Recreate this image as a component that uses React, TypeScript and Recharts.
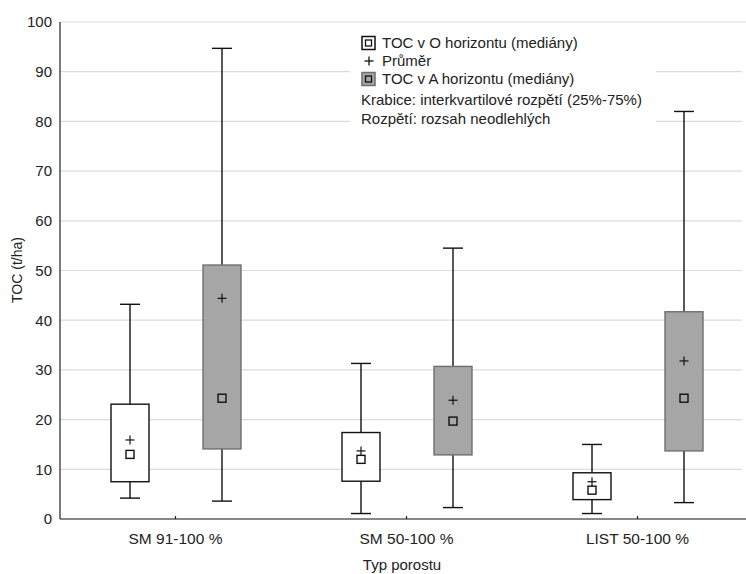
import { ComposedChart, Bar, XAxis, YAxis, CartesianGrid } from 'recharts';

const categories = ['SM 91-100 %', 'SM 50-100 %', 'LIST 50-100 %'];
const yTicks = [0, 10, 20, 30, 40, 50, 60, 70, 80, 90, 100];

// TOC v O horizontu
const oMin = [4.2, 1.1, 1.1];
const oQ1 = [7.5, 7.6, 3.9];
const oMedian = [13.0, 12.0, 5.8];
const oMean = [15.9, 13.7, 7.5];
const oQ3 = [23.1, 17.4, 9.3];
const oMax = [43.2, 31.3, 15.0];

// TOC v A horizontu
const aMin = [3.6, 2.3, 3.3];
const aQ1 = [14.1, 12.9, 13.7];
const aMedian = [24.3, 19.7, 24.3];
const aMean = [44.4, 23.9, 31.8];
const aQ3 = [51.1, 30.7, 41.7];
const aMax = [94.7, 54.5, 82.0];

const legendNotes = ['Krabice: interkvartilové rozpětí (25%-75%)', 'Rozpětí: rozsah neodlehlých'];

const data = categories.map((name, i) => ({
  name,
  o: [oMin[i], oMax[i]],
  a: [aMin[i], aMax[i]],
  oStats: { min: oMin[i], q1: oQ1[i], med: oMedian[i], mean: oMean[i], q3: oQ3[i], max: oMax[i] },
  aStats: { min: aMin[i], q1: aQ1[i], med: aMedian[i], mean: aMean[i], q3: aQ3[i], max: aMax[i] },
}));

const FONT = '"Liberation Sans", Arial, sans-serif';
const GRAY = '#a6a6a6';
const GRAY_EDGE = '#6f6f6f';
const INK = '#222';

function BoxShape(props: any) {
  const { x, y, width, height, payload, statsKey, fill, edge } = props;
  const s = payload[statsKey];
  if (!height || s.max === s.min) return null;
  const unit = height / (s.max - s.min);
  const yOf = (v: number) => y + height - (v - s.min) * unit;
  const cx = x + width / 2;
  const cap = 10;
  return (
    <g>
      <line x1={cx} x2={cx} y1={yOf(s.max)} y2={yOf(s.q3)} stroke="#111" strokeWidth={1.4} />
      <line x1={cx} x2={cx} y1={yOf(s.q1)} y2={yOf(s.min)} stroke="#111" strokeWidth={1.4} />
      <line x1={cx - cap} x2={cx + cap} y1={yOf(s.max)} y2={yOf(s.max)} stroke="#111" strokeWidth={1.4} />
      <line x1={cx - cap} x2={cx + cap} y1={yOf(s.min)} y2={yOf(s.min)} stroke="#111" strokeWidth={1.4} />
      <rect x={x} y={yOf(s.q3)} width={width} height={yOf(s.q1) - yOf(s.q3)} fill={fill} stroke={edge} strokeWidth={1.4} />
      <rect x={cx - 4} y={yOf(s.med) - 4} width={8} height={8} fill="none" stroke="#111" strokeWidth={1.4} />
      <line x1={cx - 4.5} x2={cx + 4.5} y1={yOf(s.mean)} y2={yOf(s.mean)} stroke="#111" strokeWidth={1.2} />
      <line x1={cx} x2={cx} y1={yOf(s.mean) - 4.5} y2={yOf(s.mean) + 4.5} stroke="#111" strokeWidth={1.2} />
    </g>
  );
}

function BottomTick(props: any) {
  const { x, y, payload } = props;
  return (
    <g>
      <line x1={x} x2={x} y1={y - 3} y2={y} stroke={INK} strokeWidth={1.2} />
      <text x={x} y={y + 25} textAnchor="middle" fontSize={15.5} fill={INK} fontFamily={FONT}>
        {payload.value}
      </text>
    </g>
  );
}

function TopTick(props: any) {
  const { x, y } = props;
  return <line x1={x} x2={x} y1={y} y2={y + 3} stroke={INK} strokeWidth={1.2} />;
}

function LegendIcon({ x, y, fill, edge }: { x: number; y: number; fill: string; edge: string }) {
  return (
    <g>
      <rect x={x} y={y} width={13} height={13} fill={fill} stroke={edge} strokeWidth={1.5} />
      <rect x={x + 3.5} y={y + 3.5} width={6} height={6} fill="none" stroke="#111" strokeWidth={1.3} />
    </g>
  );
}

function Overlay() {
  return (
    <svg
      width={746}
      height={574}
      style={{ position: 'absolute', left: 0, top: 0, pointerEvents: 'none' }}
      fontFamily={FONT}
      fill={INK}
    >
      {/* hides a stray edge line, the plot runs past the picture's right side */}
      <rect x={742} y={23} width={4} height={495} fill="#fff" />

      <text x={17} y={270} transform="rotate(-90, 17, 270)" textAnchor="middle" dominantBaseline="central" fontSize={14}>
        TOC (t/ha)
      </text>
      <text x={402} y={570} textAnchor="middle" fontSize={15}>
        Typ porostu
      </text>

      <rect x={350} y={25} width={306} height={104} fill="#fff" />
      <LegendIcon x={362} y={36.5} fill="#fff" edge="#111" />
      <text x={382} y={48} fontSize={15}>TOC v O horizontu (mediány)</text>
      <line x1={364.5} x2={373.5} y1={61} y2={61} stroke="#111" strokeWidth={1.3} />
      <line x1={369} x2={369} y1={56.5} y2={65.5} stroke="#111" strokeWidth={1.3} />
      <text x={382} y={66} fontSize={15}>Průměr</text>
      <LegendIcon x={362} y={72.5} fill={GRAY} edge={GRAY_EDGE} />
      <text x={382} y={84} fontSize={15}>TOC v A horizontu (mediány)</text>
      {legendNotes.map((t, i) => (
        <text key={t} x={361} y={105 + i * 19} fontSize={15}>
          {t}
        </text>
      ))}
    </svg>
  );
}

export default function App() {
  return (
    <div
      style={{
        position: 'absolute',
        left: 0,
        top: 0,
        width: 746,
        height: 574,
        overflow: 'hidden',
        background: '#fff',
      }}
    >
      <ComposedChart
        width={800}
        height={574}
        data={data}
        margin={{ top: 22, right: 47, left: 0, bottom: 0 }}
        barSize={38}
        barGap={54}
      >
        <CartesianGrid horizontal vertical={false} stroke="#dcdcdc" strokeWidth={1.2} />
        <XAxis
          dataKey="name"
          height={55}
          tickSize={0}
          tickMargin={0}
          tickLine={false}
          axisLine={{ stroke: INK, strokeWidth: 1.2 }}
          tick={<BottomTick />}
        />
        <XAxis
          xAxisId="top"
          dataKey="name"
          orientation="top"
          height={0}
          tickSize={0}
          tickMargin={0}
          tickLine={false}
          axisLine={{ stroke: INK, strokeWidth: 1.2 }}
          tick={<TopTick />}
        />
        <YAxis
          width={60}
          domain={[0, 100]}
          ticks={yTicks}
          interval={0}
          tickSize={0}
          tickMargin={8}
          tickLine={false}
          axisLine={{ stroke: INK, strokeWidth: 1.2 }}
          tick={{ fontSize: 15, fill: INK, fontFamily: FONT }}
        />
        <Bar
          dataKey="o"
          isAnimationActive={false}
          shape={(p: any) => <BoxShape {...p} statsKey="oStats" fill="#fff" edge="#111" />}
        />
        <Bar
          dataKey="a"
          isAnimationActive={false}
          shape={(p: any) => <BoxShape {...p} statsKey="aStats" fill={GRAY} edge={GRAY_EDGE} />}
        />
      </ComposedChart>
      <Overlay />
    </div>
  );
}
